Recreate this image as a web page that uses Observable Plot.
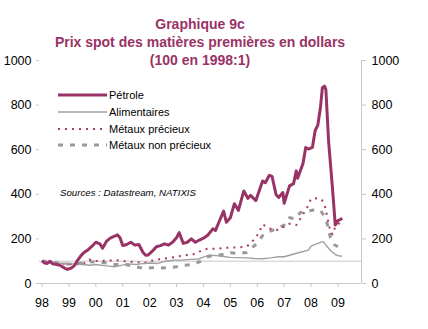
<!DOCTYPE html>
<html>
<head>
<meta charset="utf-8">
<script src="https://cdn.jsdelivr.net/npm/d3@7"></script>
<script src="https://cdn.jsdelivr.net/npm/@observablehq/plot@0.6"></script>
<style>
  html, body { margin: 0; padding: 0; background: #fff; }
  #wrap { position: relative; width: 428px; height: 329px; font-family: "Liberation Sans", Arial, sans-serif; }
  #title { position: absolute; left: 0; top: 15px; width: 400px; text-align: center; color: #993366; font-weight: bold; font-size: 14px; line-height: 18px; }
  .leg { position: absolute; left: 58px; height: 14px; display: flex; align-items: center; font-size: 11px; color: #000; white-space: nowrap; }
  .leg svg { display: block; margin-right: 2px; }
  #src { position: absolute; left: 60px; top: 187px; font-size: 9.7px; font-style: italic; color: #000; }
  #chart { position: absolute; left: 0; top: 0; }
</style>
</head>
<body>
<div id="wrap">
  <div id="chart"></div>
  <div id="title"></div>
  <div id="legend"></div>
  <div id="src"></div>
</div>
<script>
const titleLines = ["Graphique 9c", "Prix spot des matières premières en dollars", "(100 en 1998:1)"];
const sourceText = "Sources : Datastream, NATIXIS";
const seriesNames = ["Pétrole", "Alimentaires", "Métaux précieux", "Métaux non précieux"];
const yearTicks = [1998, 1999, 2000, 2001, 2002, 2003, 2004, 2005, 2006, 2007, 2008, 2009];
const yTicks = [0, 200, 400, 600, 800, 1000];

const oilT = [1998.0,1998.1,1998.2,1998.3,1998.4,1998.55,1998.7,1998.85,1998.95,1999.1,1999.2,1999.3,1999.45,1999.55,1999.7,1999.85,2000.0,2000.15,2000.25,2000.4,2000.55,2000.7,2000.8,2000.9,2001.0,2001.15,2001.3,2001.45,2001.6,2001.75,2001.85,2001.95,2002.1,2002.25,2002.4,2002.55,2002.7,2002.85,2003.0,2003.1,2003.25,2003.4,2003.55,2003.7,2003.85,2004.0,2004.15,2004.35,2004.45,2004.55,2004.75,2004.85,2005.0,2005.15,2005.3,2005.5,2005.65,2005.75,2005.95,2006.05,2006.2,2006.3,2006.45,2006.55,2006.7,2006.8,2006.95,2007.0,2007.2,2007.35,2007.45,2007.5,2007.7,2007.8,2007.9,2008.05,2008.15,2008.25,2008.35,2008.42,2008.5,2008.55,2008.65,2008.78,2008.9,2009.0,2009.1,2009.16];
const oilV = [102,92,90,100,88,85,80,68,63,70,80,100,125,138,150,166,185,178,158,190,205,212,218,205,170,175,185,172,175,140,127,128,145,165,170,178,172,185,205,228,180,185,200,185,195,203,215,245,238,268,325,275,295,358,328,415,382,395,372,408,460,452,485,480,398,386,408,360,438,448,505,472,538,610,603,610,685,710,790,878,885,870,640,450,262,282,288,292];

const foodT = [1998.0,1998.3,1998.6,1998.9,1999.2,1999.5,1999.8,2000.0,2000.3,2000.5,2000.7,2000.9,2001.2,2001.5,2001.8,2002.0,2002.3,2002.6,2002.9,2003.2,2003.5,2003.8,2004.0,2004.2,2004.5,2004.8,2005.0,2005.3,2005.6,2005.9,2006.2,2006.5,2006.8,2007.0,2007.3,2007.6,2007.9,2008.0,2008.2,2008.45,2008.6,2008.75,2008.9,2009.0,2009.15];
const foodV = [100,97,92,90,88,85,82,85,80,78,75,80,88,85,90,92,90,100,105,105,108,110,118,127,125,120,117,116,115,112,111,115,120,120,130,140,150,168,178,188,165,145,130,125,122];

const precT = [1998.0,1998.3,1998.6,1998.9,1999.2,1999.5,1999.75,1999.9,2000.2,2000.5,2000.8,2001.0,2001.3,2001.6,2001.8,2002.0,2002.3,2002.6,2002.9,2003.1,2003.4,2003.7,2003.95,2004.2,2004.5,2004.8,2005.0,2005.3,2005.6,2005.75,2005.9,2006.05,2006.2,2006.35,2006.55,2006.8,2007.0,2007.2,2007.45,2007.65,2007.85,2008.0,2008.2,2008.4,2008.5,2008.6,2008.72,2008.8,2008.9,2009.05,2009.15];
const precV = [100,95,90,88,87,85,108,100,102,103,104,100,98,95,92,100,108,112,118,122,128,133,150,157,155,160,161,162,165,180,200,225,265,255,242,240,255,268,262,300,340,380,382,375,355,300,230,220,255,270,285];

const baseT = [1998.0,1998.3,1998.6,1998.9,1999.2,1999.5,1999.8,2000.1,2000.4,2000.7,2001.0,2001.3,2001.6,2001.9,2002.2,2002.5,2002.8,2003.0,2003.3,2003.6,2003.9,2004.2,2004.5,2004.8,2005.0,2005.3,2005.6,2005.8,2006.0,2006.2,2006.4,2006.6,2006.8,2007.0,2007.2,2007.4,2007.6,2007.9,2008.1,2008.35,2008.5,2008.6,2008.72,2008.85,2009.0];
const baseV = [100,98,92,88,88,92,98,95,92,85,88,80,72,68,72,70,72,75,82,85,100,122,125,132,138,135,139,160,180,215,232,240,250,262,295,290,318,325,330,328,300,268,205,175,165];

const PLUM = "#993366";
const GRAY = "#a0a0a0";
const AXIS = "#c8c8c8";

const styles = [
  {stroke: PLUM, strokeWidth: 3, dash: null},
  {stroke: GRAY, strokeWidth: 1.4, dash: null},
  {stroke: "#a8386e", strokeWidth: 2, dash: "2,5"},
  {stroke: "#9a9a9a", strokeWidth: 3, dash: "5,7"}
];
const tables = [[oilT, oilV], [foodT, foodV], [precT, precV], [baseT, baseV]].map(([t, v]) => t.map((x, i) => ({t: x, v: v[i]})));

const lineMarks = tables.map((data, i) => Plot.line(data, {
  x: "t", y: "v", stroke: styles[i].stroke, strokeWidth: styles[i].strokeWidth,
  strokeDasharray: styles[i].dash || undefined, strokeLinejoin: "round", strokeLinecap: "butt"
}));
const ordered = [lineMarks[3], lineMarks[2], lineMarks[1], lineMarks[0]];

const xMin = 1997.907, xMax = 2009.874;

const chart = Plot.plot({
  width: 428, height: 329,
  marginTop: 60, marginBottom: 46, marginLeft: 39, marginRight: 67,
  style: {fontFamily: "'Liberation Sans', Arial, sans-serif", fontSize: "12.5px", color: "#000", background: "transparent"},
  x: {domain: [xMin, xMax]},
  y: {domain: [0, 1000]},
  marks: [
    Plot.ruleY([100], {stroke: AXIS, strokeWidth: 1}),
    Plot.ruleY([0], {stroke: AXIS, strokeWidth: 1}),
    Plot.ruleX([xMax], {y1: 0, y2: 1000, stroke: AXIS, strokeWidth: 1}),
    Plot.axisX({ticks: yearTicks, tickFormat: d => String(d % 100).padStart(2, "0"), tickSize: 4, tickPadding: 11, stroke: AXIS, label: null}),
    Plot.axisY({anchor: "left", ticks: yTicks, tickFormat: d => String(d), tickSize: 3, tickPadding: 5, stroke: AXIS, label: null}),
    Plot.axisY({anchor: "right", ticks: yTicks, tickFormat: d => String(d), tickSize: 4, tickPadding: 6, stroke: AXIS, label: null}),
    ...ordered
  ]
});
document.getElementById("chart").appendChild(chart);

document.getElementById("title").innerHTML = titleLines.map(s => `<div>${s}</div>`).join("");
document.getElementById("src").textContent = sourceText;

const legendCenters = [95, 112, 129, 145];
const legend = document.getElementById("legend");
seriesNames.forEach((name, i) => {
  const row = document.createElement("div");
  row.className = "leg";
  row.style.top = (legendCenters[i] - 7) + "px";
  const s = styles[i];
  row.innerHTML = `<svg width="49" height="10"><line x1="0" x2="49" y1="5" y2="5" stroke="${s.stroke}" stroke-width="${s.strokeWidth}" ${s.dash ? `stroke-dasharray="${s.dash}"` : ""}/></svg><span>${name}</span>`;
  legend.appendChild(row);
});
</script>
</body>
</html>
